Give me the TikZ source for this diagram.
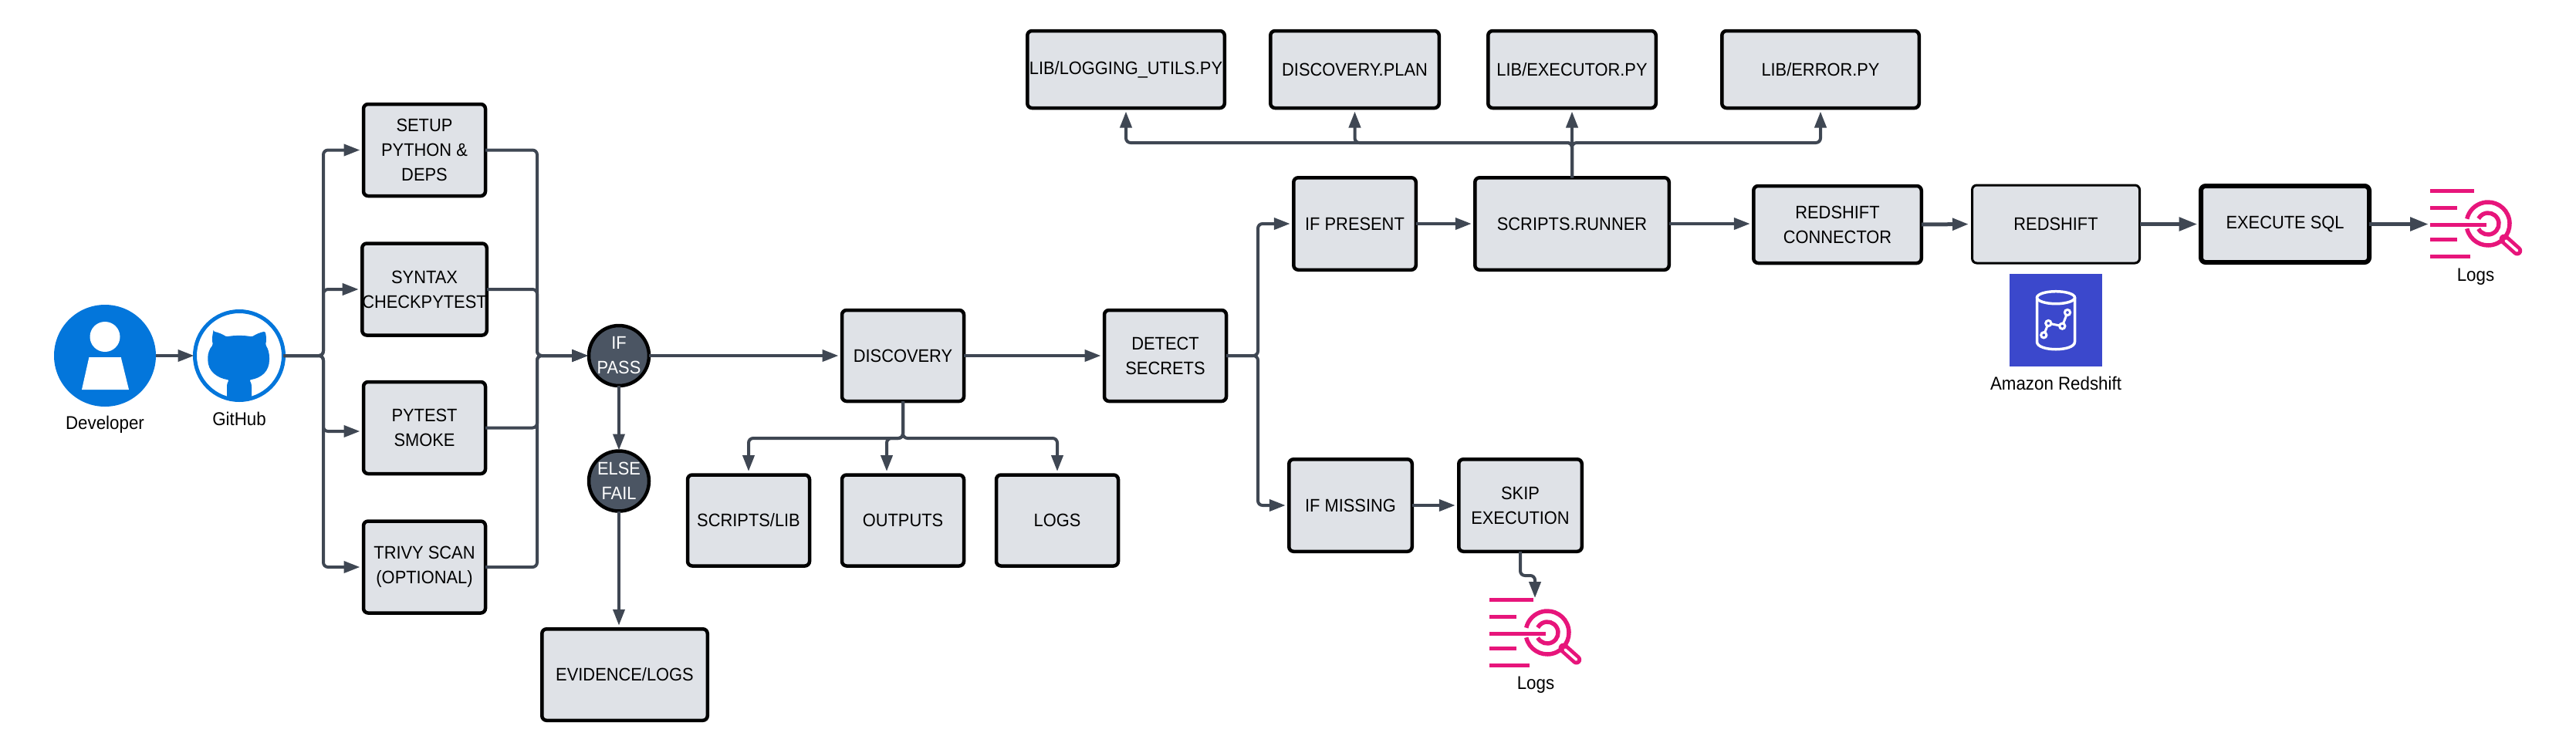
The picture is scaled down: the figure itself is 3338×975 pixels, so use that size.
\documentclass[tikz,border=0pt]{standalone}
\usepackage{fontspec}
\setmainfont{Liberation Sans}[FakeStretch=0.93]
\usetikzlibrary{arrows.meta,shapes.geometric}
\definecolor{boxfill}{HTML}{DFE2E7}
\definecolor{wire}{HTML}{3F4753}
\definecolor{gatefill}{HTML}{4B5563}
\definecolor{azureblue}{HTML}{0376DB}
\definecolor{awspink}{HTML}{E7157B}
\definecolor{awsblue}{HTML}{3B48CC}
\tikzset{
  basebox/.style={draw=black,fill=boxfill,rectangle,rounded corners=6pt,line width=4.5pt,inner sep=0pt,outer sep=0pt,align=center,font=\fontsize{23.5}{32}\selectfont},
  colbox/.style={basebox,minimum width=158pt,minimum height=119pt},
  midbox/.style={basebox,minimum width=158pt,minimum height=118pt},
  gate/.style={circle,draw=black,fill=gatefill,line width=4.5pt,minimum size=78pt,inner sep=0pt,outer sep=0pt,align=center,text=white,font=\fontsize{23.5}{32}\selectfont},
  caption/.style={inner sep=0pt,font=\fontsize{24}{26}\selectfont},
  conn/.style={draw=wire,line width=4pt,rounded corners=6pt,shorten >=4.5pt,-{Triangle[length=21pt,width=15pt]}},
  fatconn/.style={conn,line width=5pt},
  heavyconn/.style={conn,line width=5.5pt,-{Triangle[length=24pt,width=17pt]}},
  logsicon/.pic={
    \begin{scope}[awspink,line width=5.5pt]
      \draw (0,2.7) -- (57,2.7);
      \draw (0,24.7) -- (35.3,24.7);
      \draw (0,46.7) -- (73.3,46.7);
      \draw (0,65.7) -- (35.3,65.7);
      \draw (0,87.3) -- (52,87.3);
      \draw (75,45) ++(167:28) arc[start angle=167,end angle=-167,radius=28];
      \draw (75,45) ++(152:14) arc[start angle=152,end angle=-152,radius=14];
      \draw[line width=13pt,line cap=round] (96,65) -- (112.7,80);
      \draw[white,line width=3.5pt,line cap=round] (98,67) -- (112.7,80);
    \end{scope}
  },
}
\begin{document}
\begin{tikzpicture}[x=1pt,y=-1pt]
\useasboundingbox (0,0) rectangle (3338,975);

% Developer
\node[circle,fill=azureblue,minimum size=132pt,inner sep=0pt,outer sep=0pt] (dev) at (136,461) {};
\fill[white] (136,436.5) circle[radius=19.5];
\fill[white] (115.4,463) -- (156.7,463) -- (167,505) -- (106,505) -- cycle;
\node[caption] (devtxt) at (136,550) {Developer};

% GitHub
\node[circle,draw=azureblue,fill=white,line width=5pt,minimum size=115pt,inner sep=0pt,outer sep=0pt] (gh) at (310,461) {};
\fill[azureblue,rounded corners=1.5pt]
  (276.5,429.5) .. controls (283,431) and (288,433) .. (293.5,436.5)
  .. controls (303,434.5) and (317,434.5) .. (326.5,436.5)
  .. controls (332,433) and (337,431) .. (343.5,429.5)
  .. controls (345,435) and (345.5,441) .. (344,447)
  .. controls (347.5,452) and (349,458) .. (349,465)
  .. controls (349,481) and (339,490) .. (323,492.5)
  .. controls (325,495) and (326,498) .. (326,503)
  -- (326,515) -- (310,520) -- (294,515) -- (294,503)
  .. controls (294,498) and (295,495) .. (297,492.5)
  .. controls (281,490) and (269.3,481) .. (269.3,465)
  .. controls (269.3,458) and (271.5,452) .. (276,447)
  .. controls (274.5,441) and (275,435) .. (276.5,429.5) -- cycle;
\node[caption] (ghtxt) at (310,543) {GitHub};

% Column of checks
\node[colbox] (setup) at (550,194.5) {SETUP\\PYTHON \&\\DEPS};
\node[colbox] (syntax) at (550,375) {SYNTAX\\CHECKPYTEST};
\node[colbox] (pytest) at (550,554.5) {PYTEST\\SMOKE};
\node[colbox] (trivy) at (550,735) {TRIVY SCAN\\(OPTIONAL)};

\node[gate] (ifpass) at (802,461) {IF\\PASS};
\node[gate] (elsefail) at (802,623.5) {ELSE\\FAIL};
\node[basebox,minimum width=214.5pt,minimum height=118.5pt] (evid) at (809.5,874.5) {EVIDENCE/LOGS};

\node[midbox] (disc) at (1170,461) {DISCOVERY};
\node[midbox] (detect) at (1510,461) {DETECT\\SECRETS};
\node[midbox] (scripts) at (970,674.5) {SCRIPTS/LIB};
\node[midbox] (outputs) at (1170,674.5) {OUTPUTS};
\node[midbox] (logsbox) at (1370,674.5) {LOGS};

% Top row
\node[basebox,minimum width=255.5pt,minimum height=100pt] (liblog) at (1459,90) {LIB/LOGGING\_UTILS.PY};
\node[basebox,minimum width=218.5pt,minimum height=100pt] (plan) at (1755.5,90) {DISCOVERY.PLAN};
\node[basebox,minimum width=217.5pt,minimum height=100pt] (exec) at (2037,90) {LIB/EXECUTOR.PY};
\node[basebox,minimum width=255.5pt,minimum height=100pt] (liberr) at (2359,90) {LIB/ERROR.PY};

% Runner row
\node[basebox,minimum width=158.5pt,minimum height=119.5pt] (present) at (1755.5,290) {IF PRESENT};
\node[basebox,minimum width=251.5pt,minimum height=119.5pt] (runner) at (2037,290) {SCRIPTS.RUNNER};
\node[basebox,minimum width=217.5pt,minimum height=100pt] (rsconn) at (2381,291) {REDSHIFT\\CONNECTOR};
\node[basebox,line width=3pt,minimum width=217pt,minimum height=101pt] (rs) at (2664,290.5) {REDSHIFT};
\node[basebox,line width=6pt,minimum width=218pt,minimum height=99pt] (sql) at (2961,290.5) {EXECUTE SQL};

% Amazon Redshift icon
\node[rectangle,fill=awsblue,minimum size=120pt,inner sep=0pt,outer sep=0pt] (rsicon) at (2664,415) {};
\begin{scope}[white,line width=3.5pt]
  \draw (2664,385.7) ellipse[x radius=24.5,y radius=8];
  \draw (2639.5,385.7) -- (2639.5,443) .. controls (2639.5,456) and (2688.5,456) .. (2688.5,443) -- (2688.5,385.7);
  \draw[line width=3pt] (2648.3,434.3) -- (2654.3,419) -- (2672.3,422.7) -- (2679,405);
  \foreach \cx/\cy in {2648.3/434.3,2654.3/419,2672.3/422.7,2679/405}
    \draw[fill=awsblue,line width=3pt] (\cx,\cy) circle[radius=3.6];
\end{scope}
\node[caption] (rstxt) at (2664,497) {Amazon Redshift};

% If missing
\node[basebox,minimum width=159.5pt,minimum height=119.5pt] (missing) at (1750,655) {IF MISSING};
\node[basebox,minimum width=159.5pt,minimum height=119.5pt] (skip) at (1970,655) {SKIP\\EXECUTION};

% Logs icons
\pic at (3149,245) {logsicon};
\pic at (1930,775) {logsicon};
\node[caption] (logsA) at (3208,359) {Logs};
\node[caption] (logsB) at (1990,888) {Logs};
\coordinate (logsAin) at (3151.5,290.5);
\coordinate (logsBin) at (1989,779.5);

% Junctions
\coordinate (jl) at (419,461);
\coordinate (jr) at (696,461);
\coordinate (jd) at (1170,568);
\coordinate (jt) at (2037,185);
\coordinate (js) at (1630,461);
\coordinate (jk) at (1970,746);

% Connectors
\draw[conn,shorten >=1pt] (dev.east) -- (gh.west);
\draw[conn] (gh.east) -- (jl) |- (setup.west);
\draw[conn] (gh.east) -- (jl) |- (syntax.west);
\draw[conn] (gh.east) -- (jl) |- ([yshift=-4.5pt]pytest.west);
\draw[conn] (gh.east) -- (jl) |- (trivy.west);
\draw[conn,shorten >=1pt] (setup.east) -| (jr) -- (ifpass.west);
\draw[conn,shorten >=1pt] (syntax.east) -| (jr) -- (ifpass.west);
\draw[conn,shorten >=1pt] (pytest.east) -| (jr) -- (ifpass.west);
\draw[conn,shorten >=1pt] (trivy.east) -| (jr) -- (ifpass.west);
\draw[conn,shorten >=1pt] (ifpass.south) -- (elsefail.north);
\draw[conn] (elsefail.south) -- (elsefail.south |- evid.north);
\draw[conn] (ifpass.east) -- (disc.west);
\draw[conn] (disc.east) -- (detect.west);
\draw[conn] (disc.south) -- (jd) -| (scripts.north);
\draw[conn] (disc.south) -- (jd) -| ([xshift=-21pt]outputs.north);
\draw[conn] (disc.south) -- (jd) -| (logsbox.north);
\draw[conn] (detect.east) -- (js) |- (present.west);
\draw[conn] (detect.east) -- (js) |- (missing.west);
\draw[conn] (present.east) -- (runner.west);
\draw[conn] (runner.east) -- (runner.east -| rsconn.west);
\draw[conn] (runner.north) -- (jt) -| (liblog.south);
\draw[conn] (runner.north) -- (jt) -| (plan.south);
\draw[conn] (runner.north) -- (exec.south);
\draw[conn] (runner.north) -- (jt) -| (liberr.south);
\draw[fatconn] (rsconn.east) -- (rs.west);
\draw[heavyconn] (rs.east) -- (sql.west);
\draw[heavyconn] (sql.east) -- (logsAin);
\draw[conn] (missing.east) -- (skip.west);
\draw[conn] (skip.south) -- (jk) -| (logsBin);
\end{tikzpicture}
\end{document}
